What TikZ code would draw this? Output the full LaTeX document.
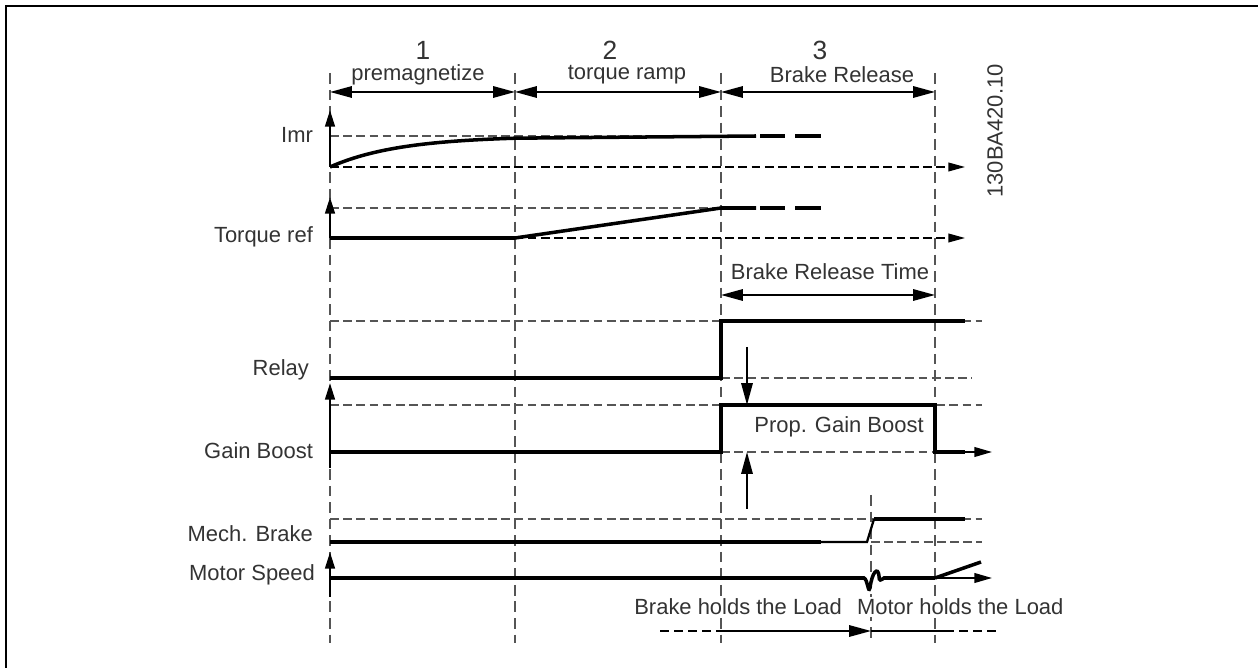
\documentclass[tikz,border=0pt]{standalone}
\usepackage{fontspec}
\setmainfont{Liberation Sans}
\usepackage{xcolor}
\definecolor{tdtext}{HTML}{333333}
\definecolor{tdgrid}{HTML}{555555}
\usetikzlibrary{arrows.meta,positioning,calc}

\begin{document}
\begin{tikzpicture}[x=0.02cm,y=-0.02cm,
  lbl/.style={font=\fontsize{12.5}{14}\selectfont,text=tdtext,inner sep=1pt},
  phase/.style={font=\fontsize{15}{17}\selectfont,text=tdtext,inner sep=0pt},
  vgrid/.style={draw=tdgrid,line width=0.8pt,dash pattern=on 6pt off 3.4pt},
  level/.style={draw=tdgrid,line width=0.8pt,dash pattern=on 5pt off 2.5pt},
  taxis/.style={line width=0.8pt,dash pattern=on 5pt off 2.5pt,-{Triangle[length=9.5pt,width=5pt]}},
  sig/.style={line width=2pt},
  dim/.style={line width=1.1pt,{Triangle[length=12.5pt,width=6.5pt]}-{Triangle[length=12.5pt,width=6.5pt]}},
  yaxis/.style={line width=1.4pt,-{Triangle[length=9.5pt,width=5.5pt]}},
  bigtip/.style={line width=1.1pt,-{Triangle[length=12.5pt,width=6.5pt]}}]
\useasboundingbox (0,0) rectangle (1258,668);
\draw[line width=1.1pt] (6,670) -- (6,6) -- (1260,6);

\foreach \x in {330,515,721,935} \draw[vgrid] (\x,73) -- (\x,643);
\draw[vgrid] (871,495) -- (871,643);

\foreach \n/\x in {0/330,1/515,2/721,3/935} \coordinate (d\n) at (\x,92);
\node[phase] (ph1) at (423,50) {1};
\node[phase] (ph2) at (610,50) {2};
\node[phase] (ph3) at (820,50) {3};
\node[lbl] (pre) at (418,75) {premagnetize};
\node[lbl] (ramp) at (627,75) {torque ramp};
\node[lbl] (rel) at (842,75) {Brake Release};
\draw[dim] (d0) -- (d1);
\draw[dim] (d1) -- (d2);
\draw[dim] (d2) -- (d3);
\node[lbl,rotate=90] (code) at (995,131) {130BA420.10};

\node[lbl,anchor=east] (imr) at (315,135) {Imr};
\node[lbl,anchor=east] (tref) at (315,237) {Torque ref};
\node[lbl,anchor=east] (relay) at (311,370) {Relay};
\node[lbl,anchor=east] (gain) at (315,451) {Gain Boost};
\node[lbl,anchor=east] (mech) at (315,534) {Mech. Brake};
\node[lbl,anchor=east] (speed) at (317,575) {Motor Speed};

\draw[level] (330,136) -- (721,136);
\draw[yaxis] (330,167) -- (330,110);
\draw[taxis] (330,167) -- (965,167);
\draw[sig] plot[domain=330:515,samples=40] (\x,{136+31*exp(-(\x-330)/70)}) -- (756,136);
\draw[sig] (760,136) -- (785,136) (795,136) -- (821,136);

\draw[level] (330,208) -- (721,208);
\draw[yaxis] (330,238) -- (330,197);
\draw[taxis] (330,238) -- (965,238);
\draw[sig] (330,238) -- (515,238) -- (721,208) -- (756,208);
\draw[sig] (760,208) -- (785,208) (795,208) -- (821,208);

\node[lbl] (brt) at (830,272) {Brake Release Time};
\draw[dim] (721,295) coordinate (b0) -- (935,295) coordinate (b1);

\draw[level] (330,321) -- (982,321);
\draw[level] (721,378) -- (972,378);
\draw[sig] (330,378) -- (721,378) -- (721,321) -- (965,321);

\draw[level] (330,405) -- (982,405);
\draw[level] (721,452) -- (935,452);
\draw[yaxis] (330,468) -- (330,383);
\draw[sig] (330,452) -- (721,452) -- (721,405) -- (935,405) -- (935,452) -- (965,452);
\draw[line width=1pt,-{Triangle[length=10pt,width=5.5pt]}] (965,452) -- (992,452);
\coordinate (pg0) at (747,347);
\coordinate (pg1) at (747,509);
\draw[bigtip] (pg0) -- (747,405);
\draw[bigtip] (pg1) -- (747,452);
\node[lbl] (pgb) at (839,427) {Prop. Gain Boost};

\draw[level] (330,519) -- (982,519);
\draw[level] (871,542) -- (982,542);
\draw[sig] (330,542) -- (821,542);
\draw[line width=1.3pt] (821,542) -- (867,542) -- (874,519);
\draw[sig] (874,519) -- (965,519);

\draw[yaxis] (330,597) -- (330,552);
\draw[sig] (330,578) -- (864,578) .. controls (868,580) and (868,594) .. (870,588)
  .. controls (872,572) and (878,566) .. (879,576) .. controls (879,582) and (881,580) .. (884,578) -- (935,578);
\draw[line width=1pt,-{Triangle[length=10pt,width=5.5pt]}] (935,578) -- (992,578);
\draw[sig] (935,578) -- (981,562);

\node[lbl,anchor=east,fill=white] (bhold) at (844,607) {Brake holds the Load};
\node[lbl,anchor=west,fill=white] (mhold) at (855,607) {Motor holds the Load};
\coordinate (h0) at (660,631);
\coordinate (h1) at (721,631);
\coordinate (h2) at (871,631);
\coordinate (h3) at (945,631);
\coordinate (h4) at (1000,631);
\draw[line width=1.1pt,dash pattern=on 5pt off 3pt] (h0) -- (h1);
\draw[bigtip] (h1) -- (h2);
\draw[line width=1.1pt] (h2) -- (h3);
\draw[line width=1.1pt,dash pattern=on 5pt off 3pt] (h3) -- (h4);
\end{tikzpicture}
\end{document}
